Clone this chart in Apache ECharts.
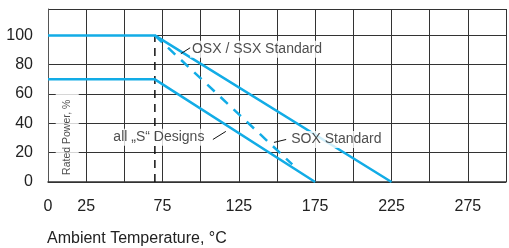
<!DOCTYPE html>
<html>
<head>
<meta charset="utf-8">
<script src="https://cdn.jsdelivr.net/npm/echarts@6/dist/echarts.min.js"></script>
<style>
  html, body { margin: 0; padding: 0; background: #fff; }
  #chart { width: 509px; height: 248px; }
</style>
</head>
<body>
<div id="chart"></div>
<script>
// derating curves (temperature °C, rated power %)
var upperCurve = [[0, 100], [70, 100], [225, 0]];
var lowerCurve = [[0, 70], [70, 70], [175, 0]];
var dashedCurve = [[70, 100], [160, 12]];
var kneeLine = [[70, 0], [70, 100]];

// annotation texts and where they sit
var noteNames = ['OSX / SSX Standard', 'SOX Standard', 'all \u201eS\u201c Designs'];
var notePoints = [[93, 90.5], [158, 29], [41.5, 30.5]];
var leaders = [
    [[87, 87.5], [93.5, 91.8]],
    [[148, 27], [156, 29]],
    [[108, 29], [116.5, 34.5]]
];
var yAxisTitle = 'Rated Power, %';
var yTitlePoint = [12.6, 30.5];

var blue = '#12ace6';
var myChart = echarts.init(document.getElementById('chart'));

var option = {
    animation: false,
    title: {
        text: 'Ambient Temperature, \u00b0C',
        left: 47,
        top: 231,
        padding: 0,
        textStyle: { fontFamily: 'Liberation Sans', fontSize: 16, fontWeight: 'normal', color: '#222' }
    },
    grid: { left: 48, right: -1, top: 9, bottom: 66 },
    xAxis: {
        type: 'value',
        min: 0,
        max: 300,
        interval: 25,
        axisLine: { lineStyle: { color: '#333', width: 1.5 } },
        axisTick: { show: false },
        splitLine: { lineStyle: { color: '#333', width: 1 } },
        axisLabel: {
            margin: 17,
            fontFamily: 'Liberation Sans',
            fontSize: 16,
            color: '#222',
            formatter: function (v) {
                if (v === 0 || (v - 25) % 50 === 0 && v < 300) return String(v);
                return '';
            }
        }
    },
    yAxis: {
        type: 'value',
        min: 0,
        max: 118,
        interval: 20,
        axisLine: { show: true, lineStyle: { color: '#555', width: 1 } },
        axisTick: { show: false },
        splitLine: { lineStyle: { color: '#333', width: 1 } },
        axisLabel: {
            margin: 15,
            fontFamily: 'Liberation Sans',
            fontSize: 16,
            color: '#222',
            formatter: function (v) { return v > 100 ? '' : String(v); }
        }
    },
    series: [
        {
            type: 'line', data: upperCurve, symbol: 'none', z: 3,
            lineStyle: { color: blue, width: 2.5 }
        },
        {
            type: 'line', data: lowerCurve, symbol: 'none', z: 3,
            lineStyle: { color: blue, width: 2.5 }
        },
        {
            type: 'line', data: dashedCurve, symbol: 'none', z: 3,
            lineStyle: { color: blue, width: 2.5, type: [10, 8] }
        },
        {
            type: 'line', data: kneeLine, symbol: 'none', z: 2,
            lineStyle: { color: '#111', width: 1.5, type: [8, 6] }
        },
        {
            type: 'lines',
            coordinateSystem: 'cartesian2d',
            z: 4,
            lineStyle: { color: '#111', width: 1, opacity: 1 },
            data: leaders.map(function (c) { return { coords: c }; })
        },
        {
            type: 'scatter',
            symbolSize: 0,
            z: 10,
            silent: true,
            label: {
                show: true,
                position: 'right',
                distance: 0,
                formatter: '{b}',
                fontFamily: 'Liberation Sans',
                fontSize: 14,
                color: '#222',
                backgroundColor: '#fff',
                padding: [2, 2, 1, 2]
            },
            data: noteNames.map(function (n, i) {
                return { name: n, value: notePoints[i] };
            })
        },
        {
            type: 'scatter',
            symbolSize: 0,
            z: 10,
            silent: true,
            label: {
                show: true,
                position: 'inside',
                rotate: 90,
                formatter: '{b}',
                fontFamily: 'Liberation Sans',
                fontSize: 10.5,
                color: '#222',
                backgroundColor: '#fff',
                padding: [6, 6]
            },
            data: [{ name: yAxisTitle, value: yTitlePoint }]
        }
    ]
};
myChart.setOption(option);
</script>
</body>
</html>
